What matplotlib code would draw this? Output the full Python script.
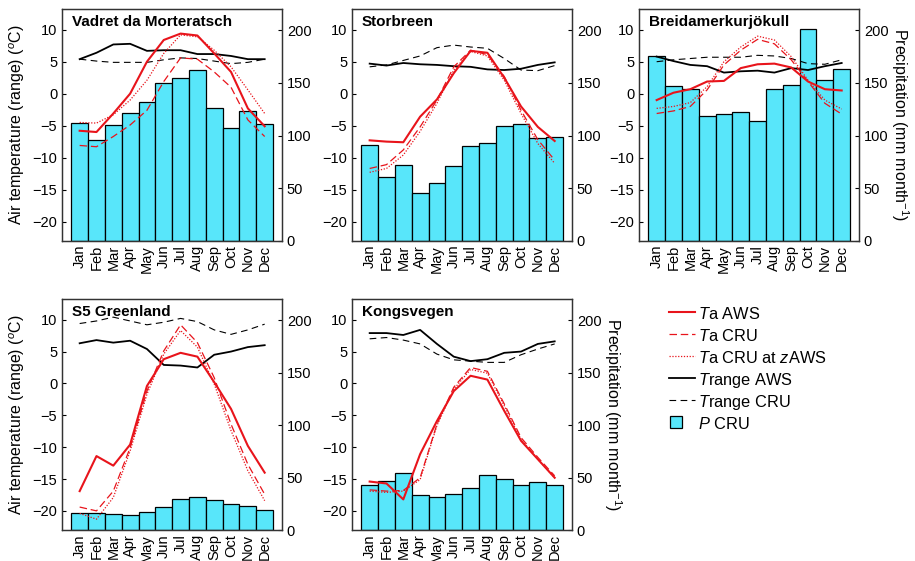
import matplotlib
matplotlib.use("Agg")
import matplotlib.pyplot as plt
import numpy as np

plt.rcParams['font.family'] = ['Liberation Sans', 'DejaVu Sans']
plt.rcParams['mathtext.fontset'] = 'custom'
plt.rcParams['mathtext.rm'] = 'Liberation Sans'
plt.rcParams['mathtext.it'] = 'Liberation Sans:italic'

months = ["Jan", "Feb", "Mar", "Apr", "May", "Jun", "Jul", "Aug", "Sep", "Oct", "Nov", "Dec"]

sites = ["Vadret da Morteratsch", "Storbreen", "Breidamerkurjökull", "S5 Greenland", "Kongsvegen"]

# Precipitation CRU (mm month-1)
p_cru = [
    [112, 96, 110, 121, 132, 150, 155, 162, 126, 107, 123, 111],
    [91, 61, 72, 45, 55, 71, 90, 93, 109, 111, 98, 99],
    [176, 147, 144, 119, 120, 122, 114, 144, 148, 201, 153, 163],
    [16.5, 16, 15.5, 14, 17, 22, 30, 31.5, 28.5, 24.5, 22.5, 19.5],
    [43, 46.5, 54, 33, 31, 34, 40.5, 52, 49, 43, 45.5, 43],
]

# Ta AWS (deg C)
ta_aws = [
    [-5.8, -6.0, -3.1, 0.0, 5.0, 8.4, 9.4, 9.1, 6.3, 3.4, -2.3, -5.1],
    [-7.3, -7.5, -7.6, -3.6, -0.9, 3.2, 6.7, 6.4, 2.5, -2.0, -5.2, -7.4],
    [-1.0, 0.15, 0.7, 1.9, 2.0, 4.0, 4.6, 4.7, 4.1, 1.9, 0.7, 0.5],
    [-16.9, -11.4, -12.9, -9.6, -0.4, 3.8, 4.8, 4.2, 0.2, -4.0, -9.8, -14.0],
    [-15.4, -15.7, -18.2, -11.1, -5.9, -1.2, 1.2, 0.6, -4.3, -9.0, -11.9, -14.8],
]

# Ta CRU (deg C)
ta_cru = [
    [-8.1, -8.3, -6.7, -4.9, -2.6, 1.9, 5.6, 5.4, 3.4, 1.0, -4.1, -6.7],
    [-11.7, -11.1, -8.8, -5.2, -1.0, 4.2, 6.8, 6.1, 2.7, -2.6, -7.2, -10.4],
    [-3.1, -2.7, -2.0, 0.6, 4.5, 6.8, 8.5, 7.8, 5.3, 1.9, -1.5, -3.2],
    [-19.4, -20.0, -16.9, -10.1, -1.2, 5.1, 9.2, 6.4, 0.9, -6.4, -12.7, -17.4],
    [-16.7, -16.9, -16.8, -14.8, -6.4, -0.6, 2.5, 1.9, -3.2, -8.5, -11.6, -14.5],
]

# Ta CRU at zAWS (deg C)
ta_cru_z = [
    [-4.5, -4.6, -3.3, -1.0, 2.1, 6.3, 9.2, 8.9, 6.8, 4.2, 0.6, -3.1],
    [-12.3, -11.7, -9.6, -5.9, -1.5, 3.7, 6.6, 5.9, 2.1, -3.1, -7.8, -10.9],
    [-2.3, -2.0, -1.4, 1.1, 5.0, 7.3, 9.0, 8.4, 5.8, 2.1, -1.0, -2.4],
    [-20.4, -21.3, -17.9, -10.6, -1.7, 4.6, 8.3, 5.7, -0.1, -7.4, -13.7, -18.4],
    [-16.9, -17.1, -16.9, -15.1, -6.6, -0.9, 2.2, 1.6, -3.5, -8.8, -11.9, -14.8],
]

# Trange AWS (deg C)
tr_aws = [
    [5.4, 6.4, 7.7, 7.8, 6.7, 6.8, 6.8, 6.2, 6.2, 5.9, 5.4, 5.4],
    [4.7, 4.4, 4.8, 4.6, 4.5, 4.3, 4.2, 3.8, 3.7, 3.9, 4.5, 4.9],
    [5.8, 5.1, 4.5, 4.3, 3.3, 3.5, 3.6, 3.3, 4.0, 3.7, 4.3, 4.8],
    [6.3, 6.8, 6.4, 6.7, 5.4, 2.9, 2.8, 2.5, 4.5, 5.0, 5.7, 6.0],
    [7.9, 7.9, 7.6, 8.4, 6.2, 4.2, 3.5, 3.8, 4.8, 5.0, 6.2, 6.6],
]

# Trange CRU (deg C)
tr_cru = [
    [5.4, 5.1, 4.9, 4.9, 4.9, 5.3, 5.6, 5.5, 5.1, 4.7, 4.9, 5.4],
    [4.2, 4.5, 5.2, 5.9, 7.2, 7.6, 7.3, 7.1, 5.5, 3.7, 3.6, 4.4],
    [5.0, 5.3, 5.5, 5.7, 5.7, 5.7, 6.0, 5.9, 5.5, 4.7, 4.6, 5.3],
    [9.4, 9.8, 10.4, 9.8, 9.2, 9.6, 10.2, 9.7, 8.4, 7.7, 8.4, 9.3],
    [7.0, 7.2, 6.8, 6.2, 4.6, 3.7, 3.5, 3.3, 3.3, 4.5, 5.4, 6.2],
]

legend_labels = ["$\\mathit{T}$a AWS", "$\\mathit{T}$a CRU", "$\\mathit{T}$a CRU at $\\mathit{z}$AWS",
                 "$\\mathit{T}$range AWS", "$\\mathit{T}$range CRU", "$\\mathit{P}$ CRU"]

W, H = 915, 561
fig = plt.figure(figsize=(W / 100, H / 100), dpi=100)

lefts = [62, 352, 639, 62, 352]
tops = [9.3, 9.3, 9.3, 299.3, 299.3]
bottoms = [240.7, 240.7, 240.7, 530, 530]
aw = 220

bar_color = "#58E6FA"
red = "#E8141B"
x = np.arange(1, 13)
FS = 10.5

styles = [
    dict(color=red, lw=1.5, ls='-'),
    dict(color=red, lw=0.9, ls=(0, (6, 3))),
    dict(color=red, lw=0.9, ls=(0, (1, 1.3))),
    dict(color="black", lw=1.3, ls='-'),
    dict(color="black", lw=0.8, ls=(0, (6, 4))),
]

for i in range(5):
    l, t, b = lefts[i], tops[i], bottoms[i]
    ax = fig.add_axes([l / W, 1 - b / H, aw / W, (b - t) / H])
    ax2 = ax.twinx()
    ax.set_zorder(ax2.get_zorder() + 1)
    ax.patch.set_visible(False)
    ax2.bar(x, p_cru[i], width=1.0, color=bar_color, edgecolor="black", linewidth=0.9)
    ax2.set_ylim(0, 220)
    ax2.set_yticks([0, 50, 100, 150, 200])
    ax.plot(x, tr_cru[i], **styles[4])
    ax.plot(x, tr_aws[i], **styles[3])
    ax.plot(x, ta_cru_z[i], **styles[2])
    ax.plot(x, ta_cru[i], **styles[1])
    ax.plot(x, ta_aws[i], **styles[0])
    ax.set_ylim(-23, 13.2)
    ax.set_yticks([-20, -15, -10, -5, 0, 5, 10])
    ax.set_xlim(-0.05, 13.03)
    ax.set_xticks(x)
    ax.set_xticklabels(months, rotation=90, fontsize=FS)
    ax.tick_params(axis='y', labelsize=FS, direction='in', length=3)
    ax.tick_params(axis='x', length=0, pad=3)
    ax2.tick_params(axis='y', labelsize=FS, direction='in', length=3)
    for a in (ax, ax2):
        for s in a.spines.values():
            s.set_color("#333333")
            s.set_linewidth(0.9)
    ax.text(0.045, 0.975, sites[i], transform=ax.transAxes, ha='left', va='top',
            fontsize=FS + 0.5, fontweight='bold')
    if i in (0, 3):
        ax.set_ylabel("Air temperature (range) ($^{o}$C)", fontsize=FS + 1, labelpad=4)
    if i in (2, 4):
        ax2.set_ylabel("Precipitation (mm month$^{-1}$)", fontsize=FS + 1,
                       rotation=-90, labelpad=16)

# manual legend
lax = fig.add_axes([0, 0, 1, 1])
lax.set_xlim(0, W)
lax.set_ylim(H, 0)
lax.axis('off')
row_y = [312, 334, 356, 378, 400, 422]
for k in range(6):
    yy = row_y[k]
    if k < 5:
        lax.plot([669, 695], [yy, yy], **styles[k])
    else:
        lax.plot([676], [yy], marker='s', ms=9, mfc=bar_color, mec='black', mew=0.9, ls='none')
    lax.text(698, yy, legend_labels[k], fontsize=FS + 1.3, va='center_baseline', ha='left')

fig.savefig("out.png", dpi=100)
